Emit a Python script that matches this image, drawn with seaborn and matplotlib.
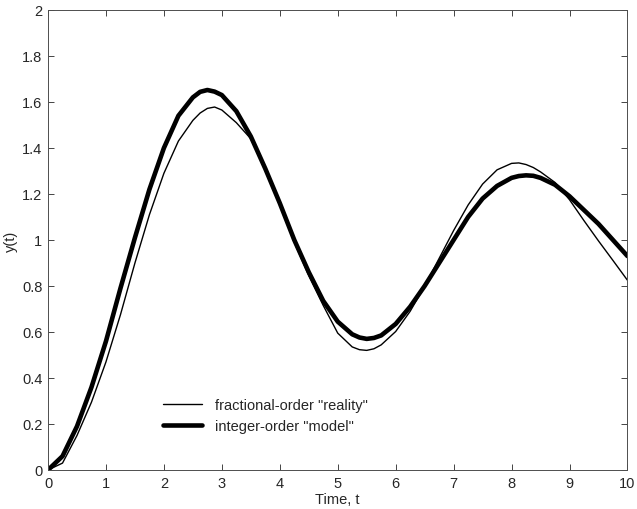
import pandas as pd
import matplotlib
matplotlib.use("Agg")
import matplotlib.pyplot as plt
import seaborn as sns

# values
time = [0.00, 0.25, 0.50, 0.75, 1.00, 1.25, 1.50, 1.75, 2.00, 2.25,
        2.50, 2.625, 2.75, 2.875, 3.00, 3.25, 3.50, 3.75, 4.00, 4.25, 4.50, 4.75,
        5.00, 5.25, 5.375, 5.50, 5.625, 5.75, 6.00, 6.25, 6.50, 6.75, 7.00, 7.25,
        7.50, 7.75, 8.00, 8.125, 8.25, 8.375, 8.50, 8.75, 9.00, 9.25, 9.50, 9.75, 10.00]

reality = [0.000, 0.030, 0.150, 0.295, 0.470, 0.675, 0.900, 1.110, 1.290, 1.430,
           1.520, 1.552, 1.572, 1.578, 1.565, 1.510, 1.440, 1.310, 1.155, 0.990, 0.845, 0.715,
           0.595, 0.535, 0.523, 0.520, 0.527, 0.544, 0.602, 0.690, 0.799, 0.920, 1.041, 1.152,
           1.243, 1.305, 1.333, 1.335, 1.328, 1.315, 1.296, 1.250, 1.175, 1.084, 0.996, 0.911, 0.825]

model = [0.000, 0.060, 0.190, 0.360, 0.560, 0.790, 1.010, 1.220, 1.400, 1.540,
         1.620, 1.644, 1.652, 1.645, 1.630, 1.560, 1.450, 1.310, 1.160, 1.000, 0.860, 0.735,
         0.645, 0.590, 0.576, 0.570, 0.574, 0.585, 0.635, 0.710, 0.800, 0.900, 1.000, 1.100,
         1.180, 1.235, 1.270, 1.278, 1.281, 1.279, 1.270, 1.240, 1.190, 1.130, 1.070, 1.000, 0.930]

x_ticks = [0, 1, 2, 3, 4, 5, 6, 7, 8, 9, 10]
y_ticks = [0, 0.2, 0.4, 0.6, 0.8, 1, 1.2, 1.4, 1.6, 1.8, 2]
y_tick_labels = ["0", "0.2", "0.4", "0.6", "0.8", "1", "1.2", "1.4", "1.6", "1.8", "2"]

labels = ['fractional-order "reality"', 'integer-order "model"']

sns.set_style("ticks")
plt.rcParams["font.family"] = ["Liberation Sans", "DejaVu Sans"]

df = pd.DataFrame({
    "t": time * 2,
    "y": reality + model,
    "curve": [labels[0]] * len(time) + [labels[1]] * len(time),
})

fig = plt.figure(figsize=(6.37, 5.10), dpi=100)
ax = fig.add_axes([0.0754, 0.0765, 0.9096, 0.9020])

sns.lineplot(data=df, x="t", y="y", hue="curve", size="curve",
             sizes={labels[0]: 1.0, labels[1]: 3.3},
             palette={labels[0]: "black", labels[1]: "black"},
             ax=ax, legend=False)
for ln in ax.get_lines():
    ln.set_solid_joinstyle("round")

ax.set_xlim(0, 10)
ax.set_ylim(0, 2)
ax.set_xticks(x_ticks)
ax.set_yticks(y_ticks)
ax.set_yticklabels(y_tick_labels)
ax.tick_params(direction="in", top=True, right=True, length=4,
               width=0.6, labelsize=10.5, pad=4)
for s in ax.spines.values():
    s.set_linewidth(0.7)
    s.set_color("0.3")

ax.set_xlabel("Time, t", fontsize=10.5, labelpad=2)
ax.set_ylabel("y(t)", fontsize=10.5, labelpad=3)

# legend built from the same two lines
lines = ax.get_lines()
ax.legend(lines[:2], labels, loc="lower left", bbox_to_anchor=(0.175, 0.051),
          frameon=False, fontsize=10.5, handlelength=2.7, handletextpad=0.9,
          labelspacing=0.5)

fig.savefig("out.png", dpi=100)
